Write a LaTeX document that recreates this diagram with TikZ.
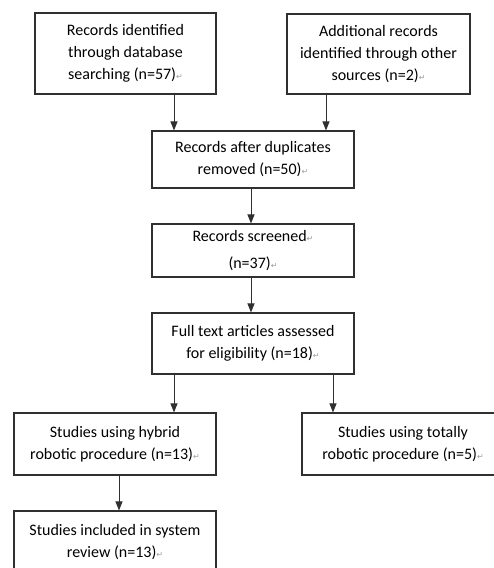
\documentclass[tikz,border=0pt]{standalone}
\usepackage{fontspec}
\setmainfont{Carlito}
\newfontfamily\markfont{DejaVu Sans}
\usetikzlibrary{arrows.meta}
\definecolor{boxline}{HTML}{303030}
\definecolor{pmark}{HTML}{9E9E9E}
\newcommand{\pmk}{{\markfont\fontsize{8}{8}\selectfont\textcolor{pmark}{↵}}}

\begin{document}
\begin{tikzpicture}[x=1pt, y=1pt,
  box/.style={draw=boxline, line width=1.1pt, align=center, inner sep=0pt,
    font=\fontsize{16}{22}\selectfont, minimum width=202pt},
  arr/.style={-{Triangle[length=9pt,width=7pt]}, line width=0.9pt, boxline}]
  \useasboundingbox (0,0) rectangle (494,-568);
  \clip (0,0) rectangle (494,-568);

  % identification
  \node[box, minimum width=181pt, minimum height=81pt] (db) at (125.5,-53.5)
    {Records identified\\through database\\searching (n=57)\pmk};
  \node[box, minimum width=183pt, minimum height=80pt] (other) at (378.5,-54)
    {Additional records\\identified through other\\sources (n=2)\pmk};

  % screening
  \node[box, minimum height=57pt] (dup) at (253,-159.5)
    {Records after duplicates\\removed (n=50)\pmk};
  \node[box, minimum height=53pt] (screen) at (253,-250.5)
    {Records screened\pmk\\[5pt](n=37)\pmk};
  \node[box, minimum height=61pt] (full) at (253,-343.5)
    {Full text articles assessed\\for eligibility (n=18)\pmk};

  % studies
  \node[box, minimum height=62pt] (hybrid) at (115,-444)
    {Studies using hybrid\\robotic procedure (n=13)\pmk};
  \node[box, minimum height=62pt] (total) at (403,-444)
    {Studies using totally\\robotic procedure (n=5)\pmk};
  \node[box, minimum height=62pt] (incl) at (115,-542)
    {Studies included in system\\review (n=13)\pmk};

  \draw[arr] ([xshift=48.5pt]db.south) -- ([xshift=48.5pt]db.south |- dup.north);
  \draw[arr] ([xshift=-52.5pt]other.south) -- ([xshift=-52.5pt]other.south |- dup.north);
  \draw[arr] ([xshift=-2pt]dup.south) -- ([xshift=-2pt]screen.north);
  \draw[arr] ([xshift=-2pt]screen.south) -- ([xshift=-2pt]full.north);
  \draw[arr] ([xshift=-79pt]full.south) -- ([xshift=-79pt]full.south |- hybrid.north);
  \draw[arr] ([xshift=80pt]full.south) -- ([xshift=80pt]full.south |- total.north);
  \draw[arr] ([xshift=4pt]hybrid.south) -- ([xshift=4pt]incl.north);
\end{tikzpicture}
\end{document}
